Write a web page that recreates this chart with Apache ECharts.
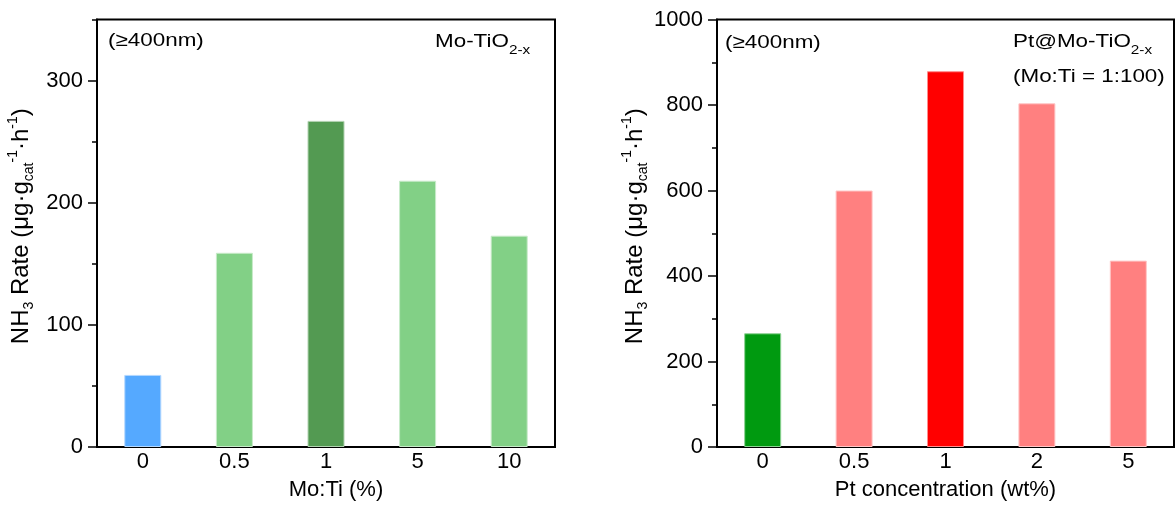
<!DOCTYPE html>
<html>
<head>
<meta charset="utf-8">
<script src="https://cdn.jsdelivr.net/npm/echarts@6/dist/echarts.min.js"></script>
<style>
  html, body { margin: 0; padding: 0; background: #fff; }
  #chart { width: 1176px; height: 506px; }
</style>
</head>
<body>
<div id="chart"></div>
<script>
// Left panel: Mo doping ratio
const moCategories = ['0', '0.5', '1', '5', '10'];
const moRates = [59, 159, 267, 218, 173];
const moColors = ['#55a9ff', '#82d086', '#539a52', '#82d086', '#82d086'];

// Right panel: Pt loading on Mo-TiO2-x (Mo:Ti = 1:100)
const ptCategories = ['0', '0.5', '1', '2', '5'];
const ptRates = [266, 600, 879, 804, 436];
const ptColors = ['#009a10', '#ff8080', '#ff0000', '#ff8080', '#ff8080'];

// Axis ranges and labelled ticks
const moAxisMax = 350, moAxisStep = 50;
const moTickValues = [0, 100, 200, 300];
const ptAxisMax = 1000, ptAxisStep = 100;
const ptTickValues = [0, 200, 400, 600, 800, 1000];

const FONT = '"Liberation Sans", Arial, sans-serif';
const TXT_STRETCH = 1.18;

function lighten(hex, amt) {
  const n = parseInt(hex.slice(1), 16);
  const r = (n >> 16) & 255, g = (n >> 8) & 255, b = n & 255;
  const f = c => Math.round(c + (255 - c) * amt);
  return 'rgb(' + f(r) + ',' + f(g) + ',' + f(b) + ')';
}

const yNameRich = {
  main: { fontSize: 24, fontFamily: FONT, color: '#000', lineHeight: 30 },
  sub: { fontSize: 14, fontFamily: FONT, color: '#000', verticalAlign: 'bottom', lineHeight: 12 },
  sup: { fontSize: 14, fontFamily: FONT, color: '#000', verticalAlign: 'top', lineHeight: 12 }
};
const yNameText = '{main|NH}{sub|3}{main| Rate (μg·g}{sub|cat}{sup|-1}{main|·h}{sup|-1}{main|)}';

function xAxisFor(idx, cats, name, namePad) {
  return {
    type: 'category', gridIndex: idx, data: cats,
    axisLine: { lineStyle: { color: '#000', width: 2 } },
    axisTick: { show: false },
    axisLabel: { color: '#000', fontSize: 22, fontFamily: FONT, margin: 4 },
    name: name, nameLocation: 'middle', nameGap: 32,
    nameTextStyle: { color: '#000', fontSize: 22, fontFamily: FONT, padding: namePad }
  };
}
function yAxisFor(idx, max, step, ticks) {
  return {
    type: 'value', gridIndex: idx, min: 0, max: max, interval: step,
    axisLine: { show: true, lineStyle: { color: '#000', width: 2 } },
    axisTick: { show: true, length: 9, customValues: ticks, lineStyle: { color: '#000', width: 1.5 } },
    minorTick: { show: false },
    splitLine: { show: false },
    axisLabel: { color: '#000', fontSize: 22, fontFamily: FONT, margin: 14, customValues: ticks,
                 formatter: v => String(v) },
    name: yNameText, nameLocation: 'middle', nameGap: 61, nameRotate: 90,
    nameTextStyle: { rich: yNameRich, padding: [0, 0, 0, 14] }
  };
}
// Short minor ticks between the labelled ones, drawn as a second value axis on the same grid
function minorAxisFor(idx, max, step) {
  return {
    type: 'value', gridIndex: idx, min: 0, max: max, interval: step, position: 'left',
    axisLine: { show: false },
    axisTick: { show: true, length: 5, lineStyle: { color: '#000', width: 1.5 } },
    axisLabel: { show: false }, splitLine: { show: false }
  };
}
function barSeries(idx, values, colors) {
  return {
    type: 'bar', xAxisIndex: idx, yAxisIndex: idx, barWidth: 37,
    data: values.map((v, i) => ({
      value: v,
      itemStyle: { color: colors[i], borderColor: lighten(colors[i], 0.55), borderWidth: 1 }
    }))
  };
}

const annRich = {
  m: { fontSize: 19, fontFamily: FONT, color: '#000', lineHeight: 30 },
  s: { fontSize: 13, fontFamily: FONT, color: '#000', verticalAlign: 'bottom', lineHeight: 10 }
};
function note(x, y, text, rich) {
  const style = rich ? { text: text, rich: annRich } : { text: text, font: '19px ' + FONT, fill: '#000' };
  return { type: 'text', x: x, y: y, scaleX: TXT_STRETCH, style: style };
}

const chart = echarts.init(document.getElementById('chart'), null, { renderer: 'canvas' });
chart.setOption({
  animation: false,
  backgroundColor: '#fff',
  grid: [
    { left: 97, top: 19.5, width: 458, height: 429.5, show: true, borderColor: '#000', borderWidth: 2, backgroundColor: 'transparent' },
    { left: 717, top: 19.5, width: 457, height: 429.5, show: true, borderColor: '#000', borderWidth: 2, backgroundColor: 'transparent' }
  ],
  xAxis: [
    xAxisFor(0, moCategories, 'Mo:Ti (%)', [0, 0, 0, 20]),
    xAxisFor(1, ptCategories, 'Pt concentration (wt%)', [0, 0, 0, 0])
  ],
  yAxis: [
    yAxisFor(0, moAxisMax, 100, moTickValues),
    yAxisFor(1, ptAxisMax, 200, ptTickValues),
    minorAxisFor(0, moAxisMax, moAxisStep),
    minorAxisFor(1, ptAxisMax, ptAxisStep)
  ],
  series: [
    barSeries(0, moRates, moColors),
    barSeries(1, ptRates, ptColors)
  ],
  graphic: [
    note(108, 31, '(≥400nm)'),
    note(435, 27, '{m|Mo-TiO}{s|2-x}', true),
    note(725, 33, '(≥400nm)'),
    note(1013, 27, '{m|Pt@Mo-TiO}{s|2-x}', true),
    note(1013, 67, '(Mo:Ti = 1:100)')
  ]
});
</script>
</body>
</html>
